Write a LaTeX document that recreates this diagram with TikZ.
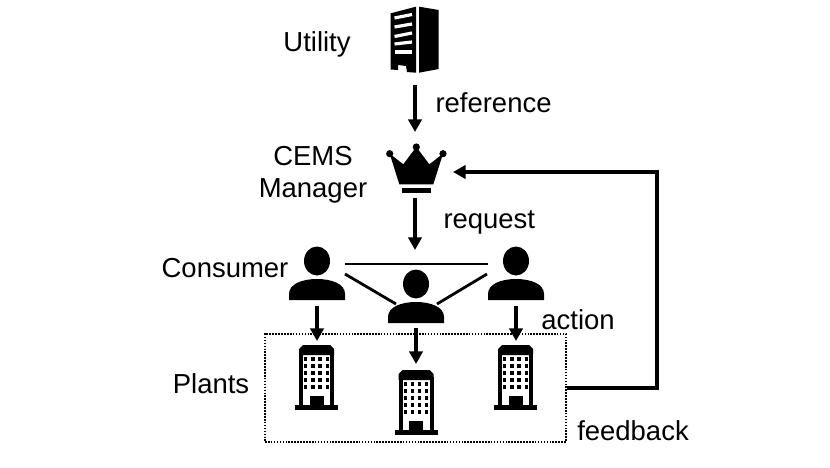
\documentclass[tikz,border=0pt]{standalone}
\usepackage{fontspec}
\setmainfont{Liberation Sans}
\usetikzlibrary{arrows.meta}

\tikzset{every picture/.style={line width=0.75pt}}
\tikzset{
  label text/.style={inner sep=0.75pt,font=\fontsize{20.6}{24}\selectfont,text=black},
  link/.style={draw=black,line width=2.6pt,-{Triangle[length=9.5pt,width=10pt]}},
  tie/.style={draw=black,line width=2.1pt},
  pics/personicon/.style={code={
    \fill (0,0) ellipse [x radius=13,y radius=14.5];
    \fill (-28,39) -- (-28,33) .. controls (-28,23) and (-15,18) .. (0,18) .. controls (15,18) and (28,23) .. (28,33) -- (28,39) -- cycle;
  }},
  pics/towericon/.style={code={
    %Roof, walls and base
    \fill (-17.5,-55) -- (-17.5,-61) -- (-13.5,-65) -- (13.5,-65) -- (17.5,-61) -- (17.5,-55) -- cycle;
    \fill (-17.5,-58) rectangle (-13.5,-3);
    \fill (13.5,-58) rectangle (17.5,-3);
    \fill (-21.5,-5) rectangle (21.5,0);
    \fill (-7,-14.5) rectangle (7,-3);
    %Windows
    \foreach \wx in {-10.7,-3.5,3.5,10.7}
      \foreach \wy in {-51,-44,-37,-30,-23}
        \fill (\wx-1.6,\wy-1.6) rectangle (\wx+1.6,\wy+1.6);
  }},
}

\begin{document}
\begin{tikzpicture}[x=0.75pt,y=0.75pt,yscale=-1,xscale=1,every pic/.style={yscale=-1}]
\useasboundingbox (0,0) rectangle (830,467);

%Shape: Utility building
\fill (390.7,13.3) -- (416,6.7) -- (416,72.7) -- (407,72) -- (406,66) -- (398,65) -- (398,70) -- (390.7,69.5) -- cycle;
\fill (419,6.7) -- (438.7,10) -- (438.7,69) -- (419,72.7) -- cycle;
\foreach \sa/\sb in {18/14.5,27/24,36.5/33,44/42,52/52}
  \draw [white,line width=2.4pt] (394.5,\sa) -- (412,\sb);

%Shape: Crown
\fill (399.3,184.3) -- (389.7,153.7) -- (403.3,164.3) -- (416.3,147) -- (429.3,164.3) -- (443,153.7) -- (433.3,184.3) -- cycle;
\fill (389.7,153.7) circle [radius=3.6];
\fill (416.3,147) circle [radius=3.6];
\fill (443,153.7) circle [radius=3.6];
\fill (401.7,187.7) rectangle (431.3,192.7);

%Shape: Consumers
\pic (personleft) at (317,261) {personicon};
\pic (personmid) at (416,284) {personicon};
\pic (personright) at (516,261) {personicon};

%Shape: Plants
\pic (towerleft) at (316.5,410) {towericon};
\pic (towermid) at (416,435) {towericon};
\pic (towerright) at (515.5,410) {towericon};

%Shape: Dotted frame
\node (plantbox) [draw,densely dotted,line width=1.2pt,inner sep=0pt,minimum width=225.75pt,minimum height=81pt] at (415.5,388) {};

% Connector ends
\coordinate (utilityout) at (415,85);
\coordinate (crownin) at (415,132);
\coordinate (crownout) at (415,198);
\coordinate (groupin) at (415,250);
\coordinate (leftout) at (317,306);
\coordinate (leftin) at (317,341);
\coordinate (midout) at (416,328);
\coordinate (midin) at (416,364);
\coordinate (rightout) at (516,306);
\coordinate (rightin) at (516,341);
\coordinate (feedbackin) at (453,172);
\coordinate (feedbackturn) at (657,388);
\coordinate (tieleft) at (345,264);
\coordinate (tieright) at (488,264);
\coordinate (slantleft) at (345,274);
\coordinate (slantmidleft) at (396,304);
\coordinate (slantright) at (487,274);
\coordinate (slantmidright) at (437,304);

%Straight Lines
\draw [link] (utilityout) -- (crownin);
\draw [link] (crownout) -- (groupin);
\draw [link] (leftout) -- (leftin);
\draw [link] (midout) -- (midin);
\draw [link] (rightout) -- (rightin);
\draw [link] (plantbox.east) -- (feedbackturn) -- (feedbackturn |- feedbackin) -- (feedbackin);
\draw [tie] (tieleft) -- (tieright);
\draw [tie] (slantleft) -- (slantmidleft);
\draw [tie] (slantright) -- (slantmidright);

% Text Node
\node (utility) [label text] at (317,44) {Utility};
% Text Node
\node (reference) [label text,anchor=west] at (434,103) {reference};
% Text Node
\node (manager) [label text,align=center] at (313,174.5) {CEMS\\Manager};
% Text Node
\node (request) [label text,anchor=west] at (442,222) {request};
% Text Node
\node (consumer) [label text] at (225,268.5) {Consumer};
% Text Node
\node (action) [label text] at (578,320) {action};
% Text Node
\node (plants) [label text] at (211,383.5) {Plants};
% Text Node
\node (feedback) [label text] at (633,431) {feedback};

\end{tikzpicture}
\end{document}
